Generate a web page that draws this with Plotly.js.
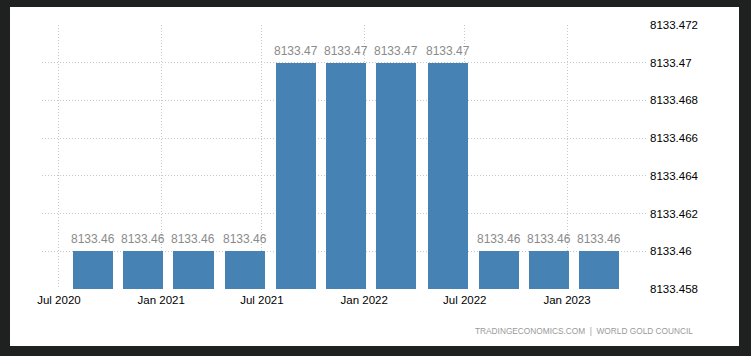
<!DOCTYPE html>
<html>
<head>
<meta charset="utf-8">
<script src="https://cdn.plot.ly/plotly-3.0.1.min.js"></script>
<style>
  html, body { margin: 0; padding: 0; background: #1f2121; width: 751px; height: 356px; overflow: hidden; }
  #chart { position: absolute; left: 10px; top: 7px; width: 729px; height: 339px; background: #fff; }
</style>
</head>
<body>
<div id="chart"></div>
<script>
const dates = ['2020-08-31','2020-11-30','2021-02-28','2021-05-31','2021-08-31','2021-11-30',
               '2022-02-28','2022-05-31','2022-08-31','2022-11-30','2023-02-28'];
const values = [8133.46, 8133.46, 8133.46, 8133.46, 8133.47, 8133.47,
                8133.47, 8133.47, 8133.46, 8133.46, 8133.46];
const xTickVals = ['2020-07-01','2021-01-01','2021-07-01','2022-01-01','2022-07-01','2023-01-01'];
const xTickText = ['Jul 2020','Jan 2021','Jul 2021','Jan 2022','Jul 2022','Jan 2023'];
const yTickVals = [8133.458, 8133.46, 8133.462, 8133.464, 8133.466, 8133.468, 8133.47, 8133.472];
const yTickText = ['8133.458','8133.46','8133.462','8133.464','8133.466','8133.468','8133.47','8133.472'];
const sourceText = 'TRADINGECONOMICS.COM  |  WORLD GOLD COUNCIL';

const DAY = 86400000;
const FONT = 'Liberation Sans, Arial, sans-serif';
const GRID = '#c8c8c8';

const trace = {
  type: 'bar',
  x: dates,
  y: values,
  width: dates.map(() => 72 * DAY),
  marker: { color: '#4682b4' },
  hoverinfo: 'x+y'
};

const labelAnnotations = dates.map((d, i) => ({
  x: d, y: values[i],
  xref: 'x', yref: 'y',
  text: String(values[i]),
  showarrow: false,
  xanchor: 'center', yanchor: 'bottom',
  yshift: 3,
  font: { family: FONT, size: 12, color: '#8a8a8a' }
}));

const layout = {
  width: 729,
  height: 339,
  margin: { l: 32, r: 93, t: 18, b: 57 },
  paper_bgcolor: '#ffffff',
  plot_bgcolor: '#ffffff',
  showlegend: false,
  bargap: 0,
  font: { family: FONT, size: 11.5, color: '#000' },
  xaxis: {
    type: 'date',
    range: ['2020-05-31 12:00', '2023-05-23'],
    tickmode: 'array',
    tickvals: xTickVals,
    ticktext: xTickText,
    showgrid: true,
    gridcolor: GRID,
    griddash: '1px,2px',
    gridwidth: 1,
    zeroline: false,
    showline: false,
    ticks: '',
    ticklabelstandoff: 2,
    tickfont: { family: FONT, size: 11.5, color: '#000' }
  },
  yaxis: {
    side: 'right',
    range: [8133.458, 8133.472],
    tickmode: 'array',
    tickvals: yTickVals,
    ticktext: yTickText,
    showgrid: true,
    gridcolor: GRID,
    griddash: '1px,2px',
    gridwidth: 1,
    zeroline: false,
    showline: false,
    ticks: '',
    ticklabelstandoff: 3,
    tickfont: { family: FONT, size: 11.5, color: '#000' }
  },
  annotations: labelAnnotations.concat([{
    text: sourceText,
    xref: 'paper', yref: 'paper',
    x: (685 - 32) / 604, y: (282 - 324) / 264,
    xanchor: 'right', yanchor: 'middle',
    showarrow: false,
    font: { family: FONT, size: 8.3, color: '#9a9a9a' }
  }])
};

Plotly.newPlot('chart', [trace], layout, { displayModeBar: false, staticPlot: true });
</script>
</body>
</html>
